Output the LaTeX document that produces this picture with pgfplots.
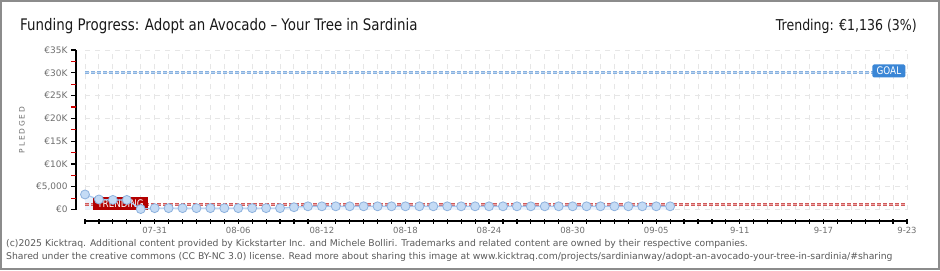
\documentclass[border=0pt]{standalone}
\usepackage{pgfplots}
\pgfplotsset{compat=1.18}
\usepackage{fontspec}
\setmainfont{DejaVu Sans}
\newfontfamily\condfont{DejaVu Sans}[FakeStretch=0.84]
\newfontfamily\spacedfont{DejaVu Sans}[LetterSpace=25]
\definecolor{border}{HTML}{8C8C8C}
\definecolor{gridc}{HTML}{E6E6E6}
\definecolor{ticklab}{HTML}{6E6E6E}
\definecolor{ptfill}{HTML}{C4DBF5}
\definecolor{ptdraw}{HTML}{8DB1DD}
\definecolor{linec}{HTML}{A9C8EE}
\definecolor{areac}{HTML}{EAF2FC}
\definecolor{trend}{HTML}{D05A5A}
\definecolor{trendin}{HTML}{EBA3A3}
\definecolor{goal}{HTML}{88B2E0}
\definecolor{goalin}{HTML}{B8D2F0}
\definecolor{trendbox}{HTML}{B30000}
\definecolor{goalbox}{HTML}{3A86D6}
\definecolor{minortick}{HTML}{D00000}
\definecolor{foot}{HTML}{5A5A5A}
\begin{document}
\begin{tikzpicture}[x=1bp,y=1bp]
\useasboundingbox (0,0) rectangle (940,270);
\fill[white] (0,0) rectangle (940,270);
\draw[border, line width=2bp] (1,1) rectangle (939,269);
\node[anchor=base west, inner sep=0pt, font=\condfont\fontsize{16}{18}\selectfont, text=black!90] at (20,240) {Funding Progress: Adopt an Avocado – Your Tree in Sardinia};
\node[anchor=base east, inner sep=0pt, font=\condfont\fontsize{15}{17}\selectfont, text=black!90] at (917,240) {Trending: €1,136 (3\%)};
\node[anchor=base west, inner sep=0pt, font=\fontsize{9.3}{10}\selectfont, text=foot] at (6,24) {(c)2025 Kicktraq. Additional content provided by Kickstarter Inc. and Michele Bolliri. Trademarks and related content are owned by their respective companies.};
\node[anchor=base west, inner sep=0pt, font=\fontsize{9.3}{10}\selectfont, text=foot] at (6,11) {Shared under the creative commons (CC BY-NC 3.0) license. Read more about sharing this image at www.kicktraq.com/projects/sardinianway/adopt-an-avocado-your-tree-in-sardinia/\#sharing};
\node[rotate=90, inner sep=0pt, font=\spacedfont\fontsize{7.5}{8}\selectfont, text=ticklab] at (22,140) {PLEDGED};
\begin{axis}[
  at={(85bp,60.5bp)}, anchor=south west,
  scale only axis, width=822bp, height=159.5bp,
  xmin=0, xmax=59, ymin=0, ymax=35000,
  axis x line*=bottom, axis y line*=left,
  axis x line shift=11.5bp, axis y line shift=9bp,
  axis line style={black, line width=1.5bp},
  xtick={5,11,...,59},
  xticklabels={07-31,08-06,08-12,08-18,08-24,08-30,09-05,9-11,9-17,9-23},
  minor xtick={0,...,59},
  xtick align=center,
  ytick={0,5000,...,35000},
  yticklabels={€0,{€5,000},€10K,€15K,€20K,€25K,€30K,€35K},
  ytick align=outside,
  extra y ticks={2500,7500,...,32500},
  extra y tick labels={},
  extra y tick style={grid=none, tick style={minortick, line width=1.2bp}},
  major tick length=5bp, minor tick length=5bp,
  tick style={black, line width=1.2bp},
  xmajorgrids=true, xminorgrids=true, ymajorgrids=true,
  grid style={gridc, line width=1bp, dash pattern=on 5bp off 5bp},
  major grid style={gridc, line width=1bp, dash pattern=on 5bp off 5bp},
  minor grid style={gridc, line width=1bp, dash pattern=on 5bp off 5bp},
  tick label style={font=\fontsize{9}{10}\selectfont, text=ticklab},
  xticklabel style={font=\fontsize{8.5}{10}\selectfont},
  scaled y ticks=false,
  clip=false,
  axis on top=false,
]
\addplot[draw=none, fill=areac, forget plot] coordinates {
(0,3300) (1,2200) (2,2100) (3,2100) (4,100) (5,300) (6,300) (7,300) (8,300) (9,300)
(10,300) (11,300) (12,300) (13,300) (14,300) (15,500) (16,700) (17,700) (18,700) (19,700)
(20,700) (21,700) (22,700) (23,700) (24,700) (25,700) (26,700) (27,700) (28,700) (29,700)
(30,700) (31,700) (32,700) (33,700) (34,700) (35,700) (36,700) (37,700) (38,700) (39,700)
(40,700) (41,700) (42,700)} \closedcycle;
\addplot[goal, line width=3bp, dash pattern=on 4bp off 2bp] coordinates {(0,30000) (59,30000)};
\addplot[goalin, line width=1bp, dash pattern=on 4bp off 2bp] coordinates {(0,30000) (59,30000)};
\addplot[trend, line width=3bp, dash pattern=on 4bp off 2bp] coordinates {(0,1136) (59,1136)};
\addplot[trendin, line width=1bp, dash pattern=on 4bp off 2bp] coordinates {(0,1136) (59,1136)};
\node[fill=trendbox, text=white, inner sep=0pt, minimum width=55bp, minimum height=13bp, font=\condfont\fontsize{10.5}{10}\selectfont] at (axis cs:2.55,1320) {TRENDING};
\addplot[linec, line width=1.2bp, mark=*, mark size=4.5bp, mark options={fill=ptfill, draw=ptdraw, line width=0.8bp}] coordinates {
(0,3300) (1,2200) (2,2100) (3,2100) (4,100) (5,300) (6,300) (7,300) (8,300) (9,300)
(10,300) (11,300) (12,300) (13,300) (14,300) (15,500) (16,700) (17,700) (18,700) (19,700)
(20,700) (21,700) (22,700) (23,700) (24,700) (25,700) (26,700) (27,700) (28,700) (29,700)
(30,700) (31,700) (32,700) (33,700) (34,700) (35,700) (36,700) (37,700) (38,700) (39,700)
(40,700) (41,700) (42,700)};
\node[fill=goalbox, text=white, rounded corners=1.5bp, inner sep=0pt, minimum width=33bp, minimum height=13bp, font=\condfont\fontsize{10.5}{10}\selectfont] at (axis cs:57.7,30400) {GOAL};
\end{axis}
\end{tikzpicture}
\end{document}
